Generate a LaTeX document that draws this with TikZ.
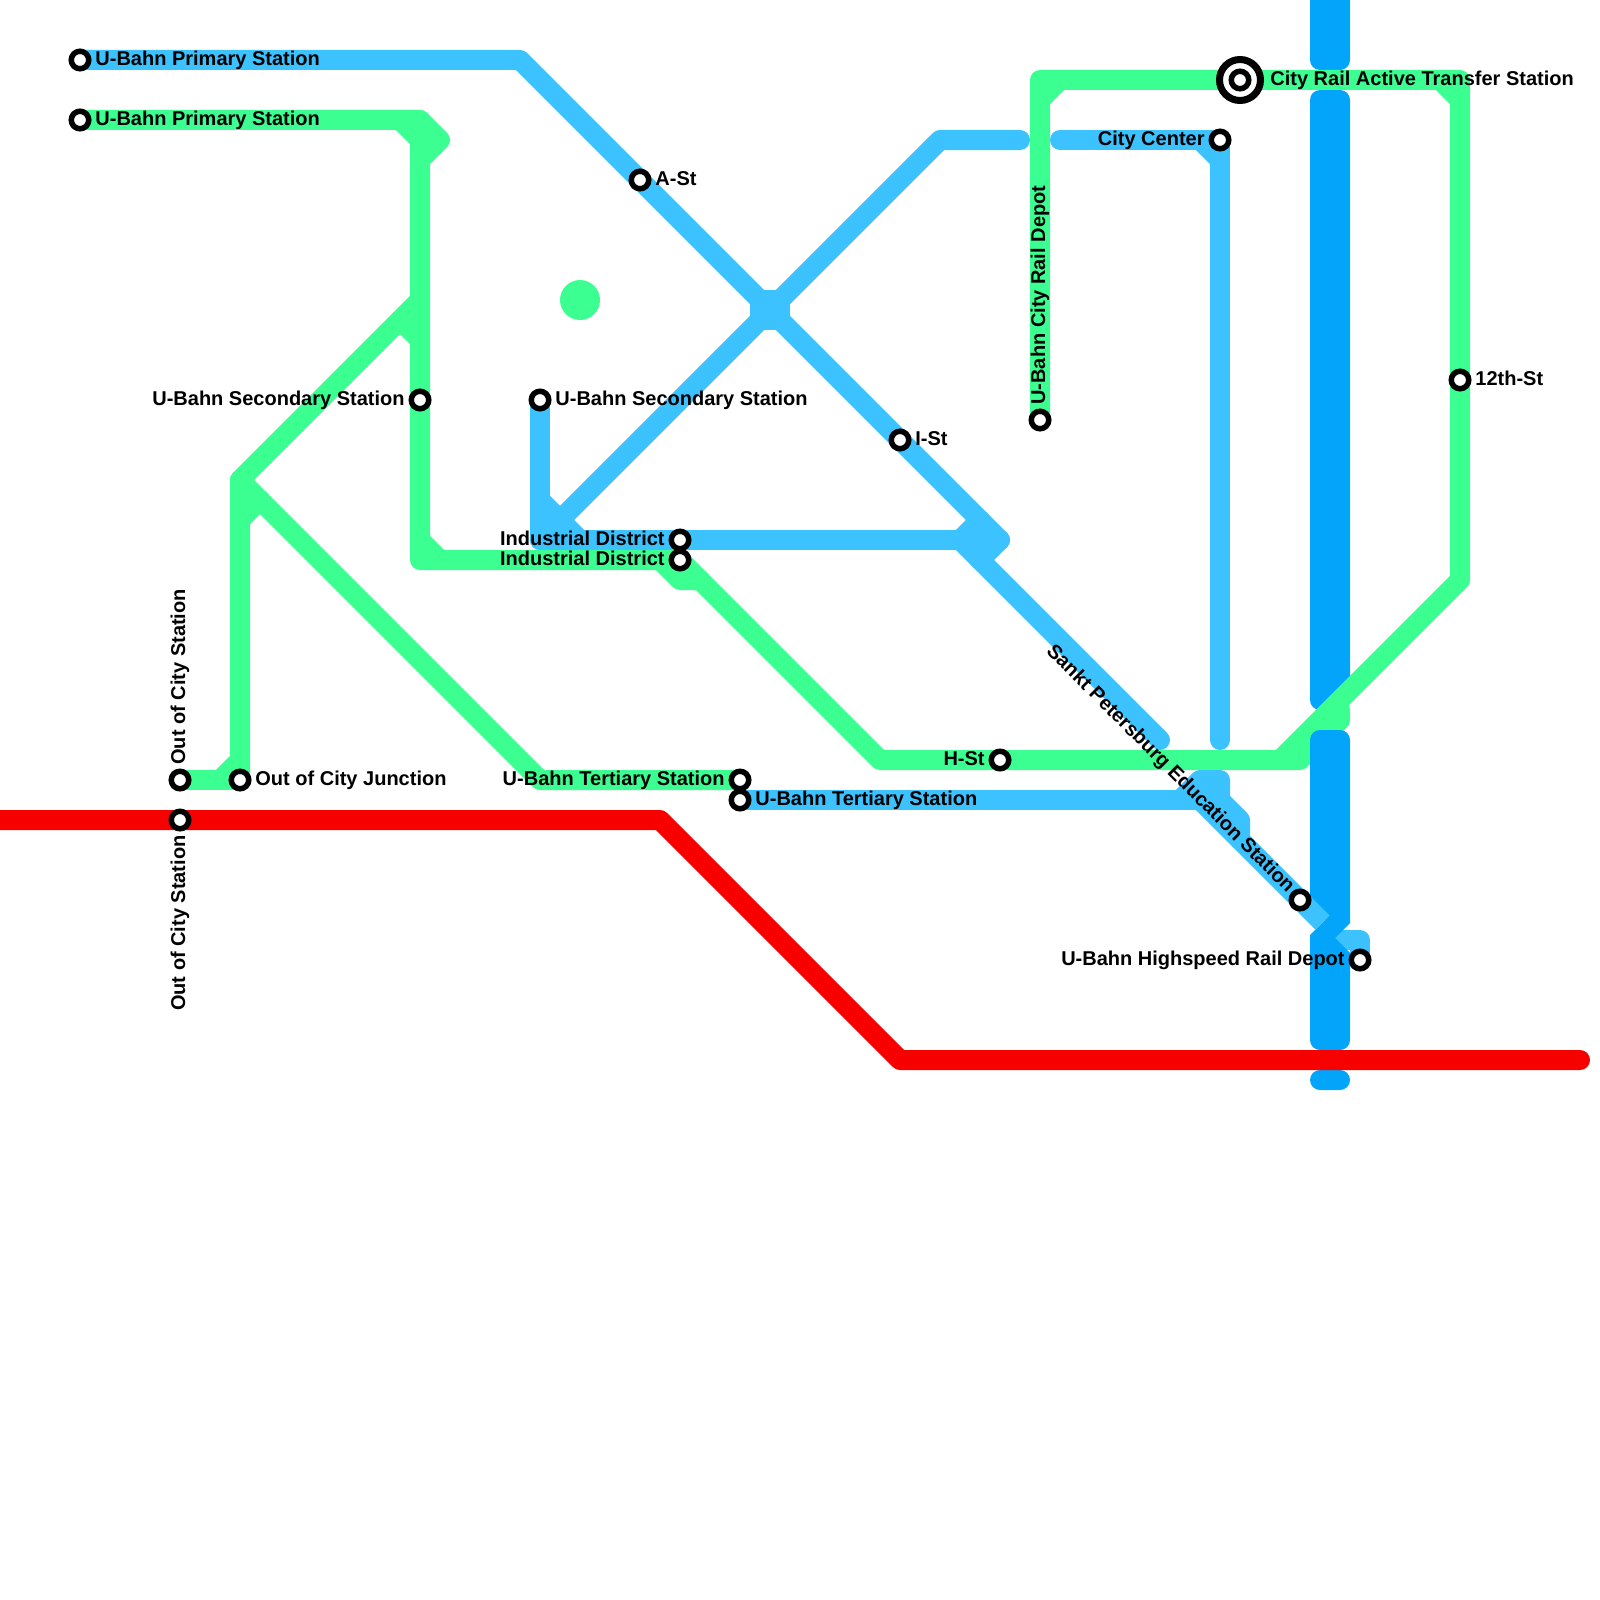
\documentclass[tikz,border=0pt]{standalone}
\usepackage{fontspec}
\setmainfont{Liberation Sans}
\usepackage{xcolor}
\usetikzlibrary{backgrounds}
\definecolor{metrogreen}{RGB}{60,255,145}
\definecolor{metroblue}{RGB}{59,194,255}
\definecolor{metrodeep}{RGB}{3,165,250}
\definecolor{metrored}{RGB}{247,0,0}

\begin{document}
\begin{tikzpicture}[
    x=0.5pt, y=-0.5pt,
    stn/.style={circle, draw=black, fill=white, line width=2.75pt, minimum size=8.75pt, inner sep=0pt},
    dot/.style={circle, fill=metrogreen, minimum size=20pt, inner sep=0pt},
    lbl/.style={font=\bfseries\fontsize{10pt}{12pt}\selectfont, inner sep=0pt, text=black},
    lblE/.style={lbl, anchor=base west, xshift=7.5pt, yshift=-2.6pt},
    lblW/.style={lbl, anchor=base east, xshift=-7.5pt, yshift=-2.6pt},
    lblN/.style={lbl, xshift=2.6pt, yshift=7.5pt, rotate=90, anchor=base west},
    lblS/.style={lbl, xshift=2.6pt, yshift=-7.5pt, rotate=90, anchor=base east},
    lblD/.style={lbl, xshift=-6.4pt, yshift=3.1pt, rotate=-45, anchor=base east},
    ln/.style={line width=10pt, line cap=round, line join=round},
    grn/.style={ln, draw=metrogreen},
    blu/.style={ln, draw=metroblue},
    rd/.style={ln, draw=metrored},
    wide/.style={fill=metrodeep, rounded corners=5pt}
]
    \useasboundingbox (0,0) rectangle (1600,1600);

    % stations
    \node[stn] (primBlue) at (80,60) {};
    \node[stn] (primGreen) at (80,120) {};
    \node[stn] (secGreen) at (420,400) {};
    \node[stn] (secBlue) at (540,400) {};
    \node[stn] (aSt) at (640,180) {};
    \node[stn] (iSt) at (900,440) {};
    \node[stn] (depotCity) at (1040,420) {};
    \node[stn] (indBlue) at (680,540) {};
    \node[stn] (indGreen) at (680,560) {};
    \node[stn] (outGreen) at (180,780) {};
    \node[stn] (outJunc) at (240,780) {};
    \node[stn] (outRed) at (180,820) {};
    \node[stn] (terGreen) at (740,780) {};
    \node[stn] (terBlue) at (740,800) {};
    \node[stn] (hSt) at (1000,760) {};
    \node[stn] (center) at (1220,140) {};
    \node[stn] (twelfth) at (1460,380) {};
    \node[stn] (sankt) at (1300,900) {};
    \node[stn] (depotFast) at (1360,960) {};
    \node[circle, draw=black, fill=white, line width=3.5pt, minimum size=20.5pt, inner sep=0pt] (transfer) at (1240,80) {};
    \node[stn] (transferIn) at (transfer) {};
    \node[dot] (greenDot) at (580,300) {};

    % labels
    \node[lblE] (primBlueL) at (primBlue) {U-Bahn Primary Station};
    \node[lblE] (primGreenL) at (primGreen) {U-Bahn Primary Station};
    \node[lblW] (secGreenL) at (secGreen) {U-Bahn Secondary Station};
    \node[lblE] (secBlueL) at (secBlue) {U-Bahn Secondary Station};
    \node[lblE] (aStL) at (aSt) {A-St};
    \node[lblE] (iStL) at (iSt) {I-St};
    \node[lblN] (depotCityL) at (depotCity) {U-Bahn City Rail Depot};
    \node[lblW] (indBlueL) at (indBlue) {Industrial District};
    \node[lblW] (indGreenL) at (indGreen) {Industrial District};
    \node[lblN] (outGreenL) at (outGreen) {Out of City Station};
    \node[lblE] (outJuncL) at (outJunc) {Out of City Junction};
    \node[lblS] (outRedL) at (outRed) {Out of City Station};
    \node[lblW] (terGreenL) at (terGreen) {U-Bahn Tertiary Station};
    \node[lblE] (terBlueL) at (terBlue) {U-Bahn Tertiary Station};
    \node[lblW] (hStL) at (hSt) {H-St};
    \node[lblW] (centerL) at (center) {City Center};
    \node[lblE] (twelfthL) at (twelfth) {12th-St};
    \node[lblD] (sanktL) at (sankt) {Sankt Petersburg Education Station};
    \node[lblW] (depotFastL) at (depotFast) {U-Bahn Highspeed Rail Depot};
    \node[lblE, xshift=7.5pt] (transferL) at (transfer) {City Rail Active Transfer Station};

    \begin{scope}[on background layer]
        \fill[wide] (1310,-30) rectangle (1350,70);
        \fill[wide] (1310,90) rectangle (1350,710);

        % green lines
        \draw[grn] (primGreen.center) -- (420,120) -- (440,140) -- (420,160) -- (secGreen.center) -- (420,560) -- (indGreen.center) -- (880,760) -- (hSt.center) -- (1280,760) -- (1460,580) -- (twelfth.center) -- (1460,80) -- (transfer.center) -- (1040,80) -- (depotCity.center);
        \draw[grn] (420,120) -- (420,160);
        \draw[grn] (420,300) -- (240,480) -- (240,780);
        \draw[grn] (240,480) -- (540,780) -- (terGreen.center);
        \draw[grn] (outGreen.center) -- (outJunc.center);
        \draw[grn] (1280,760) -- (1300,760) -- (1340,720) -- (1340,710);
        \draw[grn] (400,120) -- (420,140);
        \draw[grn] (400,320) -- (420,340);
        \draw[grn] (240,520) -- (260,500);
        \draw[grn] (220,780) -- (240,760);
        \draw[grn] (420,540) -- (440,560);
        \draw[grn] (660,560) -- (680,580) -- (700,580);
        \draw[grn] (1040,100) -- (1060,80);
        \draw[grn] (1440,80) -- (1460,100);

        % blue lines
        \draw[blu] (primBlue.center) -- (520,60) -- (aSt.center) -- (iSt.center) -- (1000,540) -- (980,560);
        \draw[blu] (secBlue.center) -- (540,540) -- (indBlue.center) -- (1000,540);
        \draw[blu] (960,540) -- (980,520);
        \draw[blu] (540,500) -- (580,540);
        \draw[blu] (540,540) -- (940,140) -- (1020,140);
        \draw[blu] (960,540) -- (1160,740);
        \fill[metroblue] (750,290) rectangle (790,330);
        \draw[blu] (1060,140) -- (center.center) -- (1220,740);
        \draw[blu] (1200,140) -- (1220,160);
        \draw[blu] (terBlue.center) -- (1200,800);
        \draw[blu] (1180,800) -- (1200,780) -- (1220,780) -- (1220,800) -- (1240,820) -- (1240,840);
        \fill[metroblue] (1200,780) rectangle (1230,800);
        \draw[blu] (depotFast.center) -- (1360,940) -- (1340,940);

        \fill[wide] (1310,905) -- (1310,730) -- (1350,730) [sharp corners] -- (1350,923) -- (1335,938) -- (1350,953) [rounded corners=5pt] -- (1350,1050) -- (1310,1050) [sharp corners] -- (1310,935) -- (1325,920) -- cycle;
        \fill[wide] (1310,1070) rectangle (1350,1090);

        \draw[blu, line cap=butt] (1200,800) -- (1322.5,922.5);

        \draw[rd] (-30,820) -- (outRed.center) -- (660,820) -- (900,1060) -- (1580,1060);
    \end{scope}
\end{tikzpicture}
\end{document}
